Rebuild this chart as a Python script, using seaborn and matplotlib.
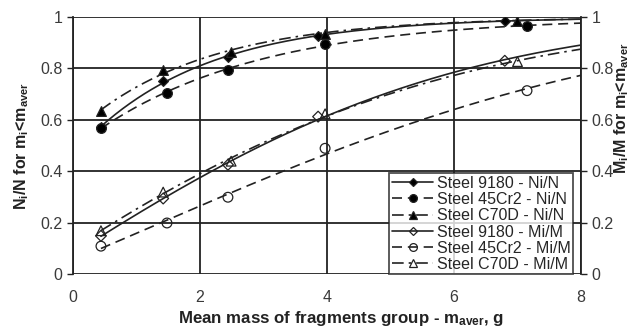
import numpy as np
import matplotlib
matplotlib.use("Agg")
import matplotlib.pyplot as plt
import seaborn as sns
from matplotlib.lines import Line2D

sns.set_style("white")
plt.rcParams['font.family'] = ['Liberation Sans', 'DejaVu Sans']
plt.rcParams['mathtext.default'] = 'regular'

# measured points (mean mass of group, fraction)
x_9180 = [0.44, 1.42, 2.44, 3.86, 6.80]
x_45cr2 = [0.44, 1.48, 2.44, 3.97, 7.15]
x_c70d = [0.44, 1.42, 2.49, 3.97, 7.00]

ni_9180 = [0.573, 0.750, 0.845, 0.928, 0.983]
ni_45cr2 = [0.570, 0.705, 0.796, 0.897, 0.967]
ni_c70d = [0.634, 0.796, 0.866, 0.935, 0.983]

mi_9180 = [0.150, 0.295, 0.426, 0.613, 0.830]
mi_45cr2 = [0.110, 0.200, 0.300, 0.490, 0.714]
mi_c70d = [0.170, 0.320, 0.440, 0.624, 0.827]

labels = ['Steel 9180 - Ni/N', 'Steel 45Cr2 - Ni/N', 'Steel C70D - Ni/N',
          'Steel 9180 - Mi/M', 'Steel 45Cr2 - Mi/M', 'Steel C70D - Mi/M']

dash = (0, (6, 3.5))
dashdot = (0, (7, 3, 1.5, 3))
# x, y, marker, face, linestyle, marker size, trend degree
series = [
    (x_9180, ni_9180, 'D', 'k', '-', 5, 1),
    (x_45cr2, ni_45cr2, 'o', 'k', dash, 7, 1),
    (x_c70d, ni_c70d, '^', 'k', dashdot, 7, 1),
    (x_9180, mi_9180, 'D', 'none', '-', 5.5, 2),
    (x_45cr2, mi_45cr2, 'o', 'none', dash, 7, 2),
    (x_c70d, mi_c70d, '^', 'none', dashdot, 7, 2),
]


def cumulative_trend(x, y, deg):
    # trend line: polynomial fit of the cumulative hazard -ln(1-y)
    x = np.asarray(x)
    y = np.asarray(y)
    coef = np.polyfit(x, -np.log(1 - y), deg, w=1 - y)
    return lambda t: 1 - np.exp(-np.polyval(coef, t))


fig = plt.figure(figsize=(6.36, 3.27), dpi=100)
ax = fig.add_axes([0.1148, 0.1606, 0.7987, 0.7874])

line_col = '#222222'
xs = np.linspace(0.44, 8, 200)
handles = []
for (x, y, m, fc, ls, ms, deg), lab in zip(series, labels):
    f = cumulative_trend(x, y, deg)
    ax.plot(xs, f(xs), color=line_col, lw=1.2, ls=ls, zorder=3)
    sns.scatterplot(x=x, y=y, ax=ax, marker=m, s=ms ** 2,
                    color='k' if fc == 'k' else 'none',
                    edgecolor=line_col, linewidth=0.9, zorder=4, legend=False)
    handles.append(Line2D([0], [0], color=line_col, lw=1.2, ls=ls, marker=m,
                          markersize=ms * 0.8, markerfacecolor=fc,
                          markeredgecolor=line_col, markeredgewidth=0.9))

ax.set_xlim(0, 8)
ax.set_ylim(0, 1)
ax.set_xticks([0, 2, 4, 6, 8])
ax.set_yticks([0, 0.2, 0.4, 0.6, 0.8, 1.0])
ax.set_yticklabels(['0', '0.2', '0.4', '0.6', '0.8', '1'])
ax.grid(True, color='#222222', lw=1.3)
for s in ax.spines.values():
    s.set_visible(False)
ax.spines['left'].set_visible(True)
ax.spines['left'].set_color('#222222')
ax.spines['left'].set_linewidth(1.3)
ax.tick_params(axis='both', direction='out', length=4, width=1.0,
               colors='#222222', labelsize=11.5, labelcolor='#3a3a3a')
ax.tick_params(axis='x', pad=7)

ax2 = ax.twinx()
ax2.set_ylim(0, 1)
ax2.set_yticks([0, 0.2, 0.4, 0.6, 0.8, 1.0])
ax2.set_yticklabels(['0', '0.2', '0.4', '0.6', '0.8', '1'])
for s in ax2.spines.values():
    s.set_visible(False)
ax2.spines['right'].set_visible(True)
ax2.spines['right'].set_color('#222222')
ax2.spines['right'].set_linewidth(1.3)
ax2.tick_params(axis='y', direction='out', length=4, width=1.0,
                colors='#222222', labelsize=11.5, labelcolor='#3a3a3a')

ax.set_xlabel('Mean mass of fragments group - m$_{aver}$, g',
              fontsize=12.2, fontweight='bold', color='#222222')
ax.xaxis.set_label_coords(0.528, -0.134)
ax.set_ylabel('N$_i$/N for m$_i$<m$_{aver}$',
              fontsize=11.5, fontweight='bold', color='#222222')
ax.yaxis.set_label_coords(-0.083, 0.5)
ax2.set_ylabel('M$_i$/M for m$_i$<m$_{aver}$', rotation=90,
               fontsize=11.5, fontweight='bold', color='#222222')
ax2.yaxis.set_label_coords(1.062, 0.647)

leg = ax.legend(handles, labels, loc='lower right',
                bbox_to_anchor=(0.984, 0.0), fontsize=11.5,
                frameon=True, fancybox=False, borderpad=0.15,
                labelspacing=0.08, handlelength=2.6, handletextpad=0.2,
                borderaxespad=0)
leg.get_frame().set_edgecolor('#222222')
leg.get_frame().set_linewidth(1.3)
leg.set_zorder(10)

fig.savefig('out.png', dpi=100)
